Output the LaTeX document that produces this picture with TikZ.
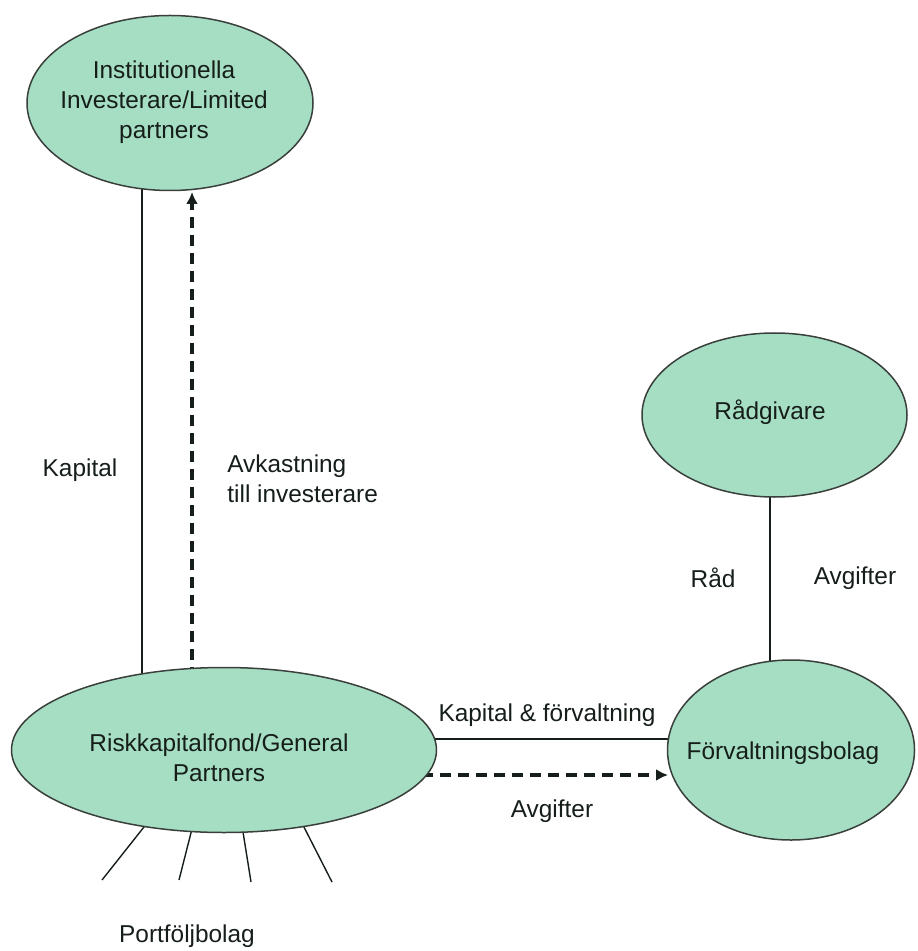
\documentclass[tikz,border=0pt]{standalone}
\usepackage{fontspec}
\setmainfont{Liberation Sans}
\usetikzlibrary{shapes.geometric,arrows.meta,backgrounds}
\definecolor{ellfill}{RGB}{166,222,196}
\definecolor{ink}{RGB}{22,30,26}
\begin{document}
\begin{tikzpicture}[x=0.5pt,y=-0.5pt,
  every node/.style={font=\fontsize{12.2}{15}\selectfont, text=ink},
  blob/.style={ellipse, draw=ink!85, line width=0.75pt, fill=ellfill, inner sep=0pt},
  txt/.style={align=center, inner sep=0pt},
  conn/.style={draw=ink, line width=0.7pt},
  dconn/.style={draw=ink, line width=1.8pt, dash pattern=on 5.5pt off 3.5pt, -{Latex[length=6pt,width=6pt]}},
]
\useasboundingbox (0,0) rectangle (917,951);
% ellipses
\node[blob, minimum width=143pt, minimum height=87.5pt] (lp) at (170,103) {};
\node[blob, minimum width=212.5pt, minimum height=82.5pt] (risk) at (224,750) {};
\node[blob, minimum width=123.5pt, minimum height=90pt] (fv) at (791,750) {};
\node[blob, minimum width=132.5pt, minimum height=82pt] (rg) at (774.5,415) {};
% texts in ellipses
\node[txt] (lpt) at (164,102) {Institutionella\\Investerare/Limited\\partners};
\node[txt] (riskt) at (219,758) {Riskkapitalfond/General\\Partners};
\node[txt] (fvt) at (783,753) {Förvaltningsbolag};
\node[txt] (rgt) at (770,412) {Rådgivare};
% labels
\node[txt] (lkap) at (80,470) {Kapital};
\node[txt, anchor=west, align=left] (lavk) at (227,479) {Avkastning\\till investerare};
\node[txt] (lkf) at (547,715) {Kapital \& förvaltning};
\node[txt] (lavg1) at (552,811) {Avgifter};
\node[txt] (lrad) at (713,578) {Råd};
\node[txt] (lavg2) at (855,578) {Avgifter};
\node[txt] (lport) at (187,936) {Portföljbolag};
% helper coordinates
\coordinate (kx) at (142,0);
\coordinate (ax) at (192,0);
\coordinate (atip) at (192,192);
\coordinate (hy1) at (0,739);
\coordinate (hy2) at (0,775);
\coordinate (htip) at (668,775);
\coordinate (rx) at (770,0);
\coordinate (q1) at (149.5,820);
\coordinate (p1) at (102,880);
\coordinate (q2) at (194,821);
\coordinate (p2) at (179,880);
\coordinate (q3) at (241,819.5);
\coordinate (p3) at (251,882);
\coordinate (q4) at (300.75,820.75);
\coordinate (p4) at (332,882);
\begin{pgfonlayer}{background}
\fill[white] (0,0) rectangle (917,951);
\draw[conn] (lp.center -| kx) -- (risk.center -| kx);
\draw[dconn] (risk.center -| ax) -- (atip);
\draw[conn] (risk.center |- hy1) -- (fv.center |- hy1);
\draw[dconn] (risk.center |- hy2) -- (htip);
\draw[conn] (rg.center -| rx) -- (fv.center -| rx);
\draw[conn] (q1) -- (p1);
\draw[conn] (q2) -- (p2);
\draw[conn] (q3) -- (p3);
\draw[conn] (q4) -- (p4);
\end{pgfonlayer}
\end{tikzpicture}
\end{document}
